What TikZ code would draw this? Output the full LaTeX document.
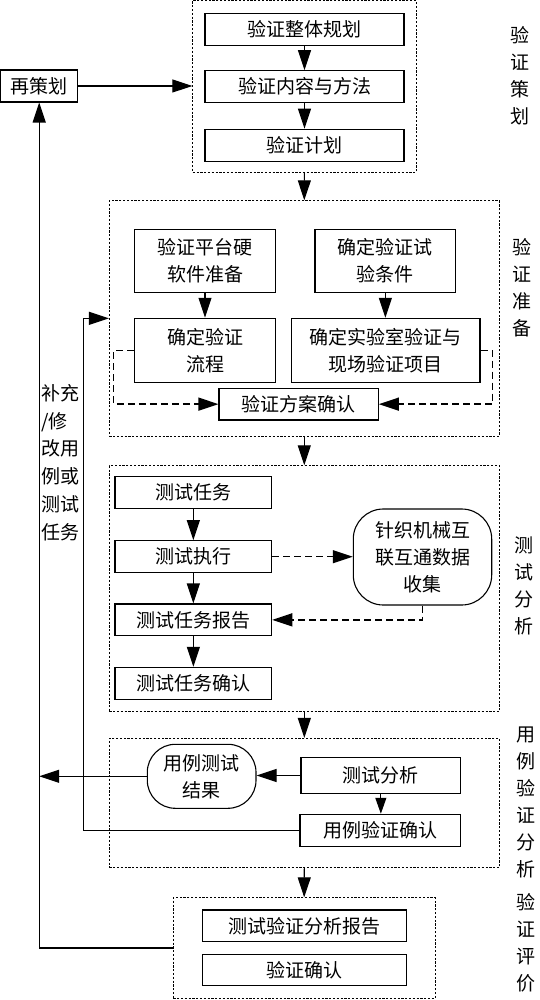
\documentclass[tikz,border=0pt]{standalone}
\usepackage{fontspec}
\setmainfont{Noto Sans CJK SC}
\usetikzlibrary{arrows.meta}
\begin{document}
\begin{tikzpicture}[x=1pt,y=-1pt,
  every node/.style={font=\fontsize{19}{27}\selectfont},
  box/.style={draw, line width=1.1pt, inner sep=0pt, align=center},
  rbox/.style={box, rounded corners=30pt},
  grp/.style={draw, line width=0.8pt, dash pattern=on 2.2pt off 1.6pt, inner sep=0pt},
  arr/.style={line width=1.1pt, -{Triangle[length=20pt,width=13pt]}},
  sarr/.style={line width=1.1pt, -{Triangle[length=16pt,width=11pt]}},
  darr/.style={line width=1.4pt, dash pattern=on 7pt off 4pt, -{Triangle[length=20pt,width=13pt]}},
  lbl/.style={align=center, inner sep=0pt}
]
\useasboundingbox (0,0) rectangle (540,1000);

% group frames
\node[grp, minimum width=223.3pt, minimum height=171.8pt] (g1) at (304.35,86.4) {};
\node[grp, minimum width=390pt, minimum height=235.3pt] (g2) at (304.3,318.35) {};
\node[grp, minimum width=390pt, minimum height=246pt] (g3) at (304.3,588.7) {};
\node[grp, minimum width=390pt, minimum height=129.4pt] (g4) at (304.3,803) {};
\node[grp, minimum width=261.7pt, minimum height=100.6pt] (g5) at (304.15,948) {};

% re-planning
\node[box, minimum width=77pt, minimum height=32pt] (rc) at (39.2,86) {再策划};

% group 1
\node[box, minimum width=199pt, minimum height=32pt] (a1) at (304.5,29.3) {验证整体规划};
\node[box, minimum width=199pt, minimum height=32pt] (a2) at (304.5,86.7) {验证内容与方法};
\node[box, minimum width=199pt, minimum height=32pt] (a3) at (304.5,145.3) {验证计划};

% group 2
\node[box, minimum width=141.4pt, minimum height=63pt] (p1) at (205,260.8) {验证平台硬\\软件准备};
\node[box, minimum width=140.7pt, minimum height=63pt] (p2) at (385.35,260.8) {确定验证试\\验条件};
\node[box, minimum width=141.4pt, minimum height=64pt] (p3) at (205,350.3) {确定验证\\流程};
\node[box, minimum width=188.3pt, minimum height=64pt] (p4) at (385.85,350.3) {确定实验室验证与\\现场验证项目};
\node[box, minimum width=159.3pt, minimum height=31.7pt] (p5) at (298.65,404.15) {验证方案确认};

% group 3
\node[box, minimum width=156.7pt, minimum height=31.6pt] (t1) at (193.35,492.5) {测试任务};
\node[box, minimum width=156.7pt, minimum height=32pt] (t2) at (193.35,556.7) {测试执行};
\node[box, minimum width=156.7pt, minimum height=31.7pt] (t3) at (193.35,619.85) {测试任务报告};
\node[box, minimum width=156.7pt, minimum height=32pt] (t4) at (193.35,683.3) {测试任务确认};
\node[rbox, minimum width=138.4pt, minimum height=96pt] (r1) at (422.5,557) {针织机械互\\联互通数据\\收集};

% group 4
\node[box, rounded corners=28pt, minimum width=108.7pt, minimum height=64pt] (u1) at (201.65,776.3) {用例测试\\结果};
\node[box, minimum width=159.7pt, minimum height=35.4pt] (u2) at (380.85,775.5) {测试分析};
\node[box, minimum width=160.7pt, minimum height=32.4pt] (u3) at (380.35,830.5) {用例验证确认};

% group 5
\node[box, minimum width=204pt, minimum height=31.7pt] (v1) at (304.7,925.85) {测试验证分析报告};
\node[box, minimum width=204pt, minimum height=31.4pt] (v2) at (304.7,970) {验证确认};

% side labels
\node[lbl] (L1) at (520,76) {验\\证\\策\\划};
\node[lbl] (L2) at (522,288) {验\\证\\准\\备};
\node[lbl] (L3) at (524,586) {测\\试\\分\\析};
\node[lbl] (L4) at (525.5,802.5) {用\\例\\验\\证\\分\\析};
\node[lbl] (L5) at (525.5,943) {验\\证\\评\\价};
\node[lbl, align=left, anchor=west, font=\fontsize{19}{27.8}\selectfont] (fb) at (41,462.5) {补充\\/修\\改用\\例或\\测试\\任务};

% connectors group 1
\draw[arr] (rc.east) -- (rc.east -| g1.west);
\draw[arr] (a1.south) -- (a2.north);
\draw[arr] (a2.south) -- (a3.north);
\draw[arr] (g1.south) -- (g2.north);

% group 2
\draw[arr] (p1.south) -- (p3.north);
\draw[arr] (p2.south) -- (p2.south |- p4.north);
\draw[darr] (p3.west) -- ++(-20,0) |- (p5.west);
\draw[darr] (p4.east) -- ++(11.7,0) |- (p5.east);
\draw[arr] (g2.south) -- (g3.north);

% group 3
\draw[arr] (t1.south) -- (t2.north);
\draw[arr] (t2.south) -- (t3.north);
\draw[arr] (t3.south) -- (t4.north);
\draw[darr] (t2.east) -- (t2.east -| r1.west);
\draw[darr] (r1.south) |- (t3.east);
\draw[arr] (g3.south) -- (g4.north);

% group 4
\draw[arr] (u2.west) -- (u2.west -| u1.east);
\draw[sarr] (u2.south) -- (u2.south |- u3.north);
\draw[arr] (g4.south) -- (g5.north);

% feedback loops
\coordinate (fbx) at (83.3,0);
\draw[arr] (u1.west) -- (u1.west -| rc.south);
\draw[arr] (u3.west) -| (fbx |- g2.west) -- (g2.west);
\draw[arr] (g5.west) -| (rc.south);
\end{tikzpicture}
\end{document}
